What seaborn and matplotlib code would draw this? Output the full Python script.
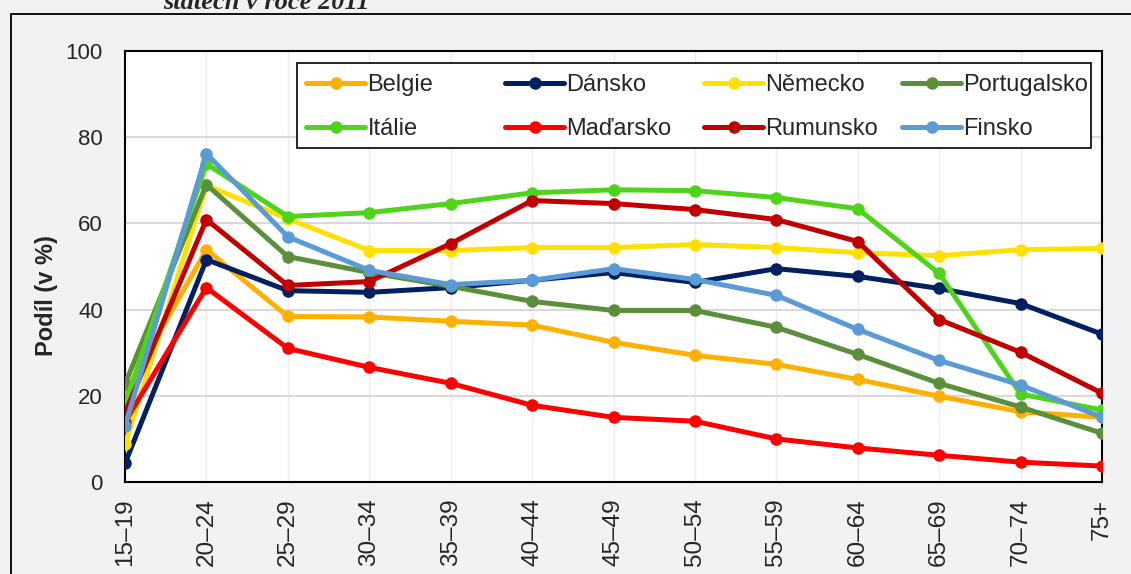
import seaborn as sns
import matplotlib.pyplot as plt
import pandas as pd

# vekove skupiny
ages = ["15–19", "20–24", "25–29", "30–34", "35–39", "40–44", "45–49",
        "50–54", "55–59", "60–64", "65–69", "70–74", "75+"]

belgie      = [20.6, 53.9, 38.4, 38.3, 37.3, 36.4, 32.4, 29.4, 27.3, 23.8, 19.9, 16.3, 15.0]
dansko      = [4.3, 51.6, 44.4, 44.0, 45.1, 46.8, 48.6, 46.3, 49.5, 47.7, 44.9, 41.4, 34.3]
nemecko     = [8.8, 68.8, 61.1, 53.7, 53.7, 54.4, 54.4, 55.1, 54.4, 53.2, 52.5, 53.9, 54.2]
portugalsko = [22.7, 69.0, 52.3, 48.6, 45.4, 41.9, 39.8, 39.8, 35.9, 29.6, 22.9, 17.4, 11.3]
italie      = [18.1, 73.8, 61.6, 62.5, 64.6, 67.1, 67.8, 67.6, 66.0, 63.4, 48.4, 20.4, 16.7]
madarsko    = [14.0, 45.1, 31.0, 26.6, 22.9, 17.8, 15.0, 14.1, 10.0, 7.9, 6.2, 4.6, 3.7]
rumunsko    = [16.0, 60.9, 45.6, 46.5, 55.3, 65.3, 64.6, 63.2, 60.9, 55.8, 37.7, 30.1, 20.6]
finsko      = [13.0, 76.2, 56.9, 49.1, 45.8, 46.8, 49.5, 47.0, 43.3, 35.4, 28.2, 22.5, 15.0]

countries = ["Belgie", "Dánsko", "Německo", "Portugalsko",
             "Itálie", "Maďarsko", "Rumunsko", "Finsko"]
values = [belgie, dansko, nemecko, portugalsko, italie, madarsko, rumunsko, finsko]
colors = ["#FFB000", "#002060", "#FFE000", "#5B8F3B",
          "#4FD41B", "#FF0000", "#C00000", "#5B9BD5"]

rows = []
for c, vals in zip(countries, values):
    for a, v in zip(ages, vals):
        rows.append({"vek": a, "podil": v, "zeme": c})
df = pd.DataFrame(rows)

sns.set_theme(style="white")
plt.rcParams["font.family"] = ["Liberation Sans", "DejaVu Sans"]

W, H = 1131, 574
fig = plt.figure(figsize=(W / 100, H / 100), dpi=100, facecolor="#f2f2f2")
ax = fig.add_axes([125 / W, 1 - 482 / H, 977 / W, 431 / H])
ax.set_facecolor("white")

# ramecek celeho grafu
fig.add_artist(plt.Rectangle((11 / W, -0.05), 1.2, 1 - 14 / H + 0.05,
                             transform=fig.transFigure, fill=False,
                             edgecolor="black", linewidth=1.3))
fig.text(163 / W, 1 - 9 / H, "státech v roce 2011", ha="left", va="baseline",
         fontsize=19, fontweight="bold", fontstyle="italic", family="Liberation Serif")

lw, ms = 3.6, 9
sns.lineplot(data=df, x="vek", y="podil", hue="zeme", hue_order=countries,
             palette=colors, marker="o", markersize=ms, markeredgewidth=0,
             linewidth=lw, sort=False, ax=ax, legend=False, zorder=3)

ax.set_ylim(0, 100)
ax.set_yticks(range(0, 101, 20))
ax.set_xlim(0, len(ages) - 1)
ax.grid(axis="y", color="#d9d9d9", linewidth=1.5)
ax.grid(axis="x", color="#ececec", linewidth=1.0)
ax.set_axisbelow(True)
for s in ax.spines.values():
    s.set_color("black")
    s.set_linewidth(1.5)
ax.tick_params(axis="y", labelsize=16, length=0, pad=16)
ax.tick_params(axis="x", labelsize=17.5, length=0, pad=12, labelrotation=90)
ax.set_xlabel("")
ax.set_ylabel("Podíl (v %)", fontsize=17, fontweight="bold")
ax.yaxis.set_label_coords((58 - 125) / 977, (482 - 296) / 431)

# legenda: 4 sloupce stejne siroke, spolecny ramecek
ax.add_patch(plt.Rectangle((297 / W, 1 - 148 / H), 794 / W, 85 / H,
                           transform=fig.transFigure, clip_on=False,
                           facecolor="white", edgecolor="black",
                           linewidth=1.2, zorder=4))
col_x = [306, 505, 704, 902]
for j in range(4):
    idx = [j, j + 4]
    hs = [plt.Line2D([], [], color=colors[i], linewidth=lw, marker="o",
                     markersize=ms, markeredgewidth=0) for i in idx]
    leg = ax.legend(hs, [countries[i] for i in idx], loc="upper left",
                    bbox_to_anchor=(col_x[j] / W, 1 - 74 / H),
                    bbox_transform=fig.transFigure, frameon=False,
                    borderpad=0, borderaxespad=0, fontsize=17,
                    handlelength=2.5, handletextpad=0.1, labelspacing=0.95)
    leg.set_zorder(5)
    ax.add_artist(leg)
ax.legend_ = None

plt.savefig("out.png", dpi=100, facecolor=fig.get_facecolor())
